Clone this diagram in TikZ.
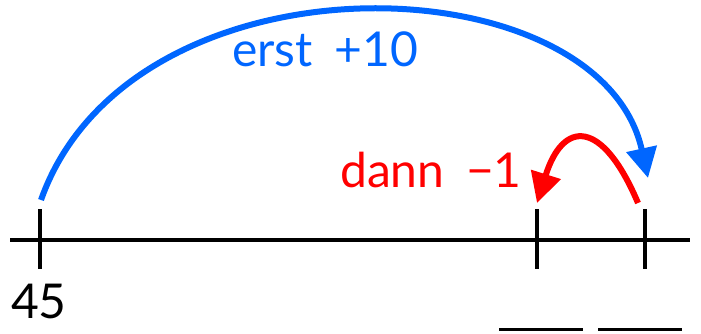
\documentclass[tikz,border=0pt]{standalone}
\usepackage{fontspec}
\setmainfont{Lato}
\usetikzlibrary{arrows.meta}
\definecolor{jumpblue}{RGB}{0,102,255}
\definecolor{jumpred}{RGB}{255,0,0}
\begin{document}
\begin{tikzpicture}[x=1pt, y=-1pt, >={Triangle[length=30pt,width=30pt]},
    lbl/.style={font=\fontsize{48}{56}\selectfont, inner sep=0pt, anchor=base}]
    \useasboundingbox (0,0) rectangle (701,334);
    % Number line
    \coordinate (L) at (10,240);
    \coordinate (R) at (690,240);
    \draw[line width=4pt] (L) -- (R);
    % Ticks
    \foreach \n/\x in {a/40, b/537, c/645} {
        \coordinate (\n top) at (\x,209);
        \coordinate (\n bot) at (\x,269);
        \draw[line width=4pt] (\n top) -- (\n bot);
    }
    \node[lbl] (start) at (39,318) {45};
    % Blanks for the answer
    \coordinate (u1) at (499,329);
    \coordinate (u2) at (583,329);
    \coordinate (v1) at (598,329);
    \coordinate (v2) at (682,329);
    \draw[line width=3pt] (u1) -- (u2);
    \draw[line width=3pt] (v1) -- (v2);
    % First jump
    \coordinate (blueA) at (41,200);
    \coordinate (blueB) at (648,178);
    \draw[->, jumpblue, line width=6pt] (blueA) .. controls (131,-54) and (600,-40) .. (blueB);
    \node[lbl, text=jumpblue] (erst) at (325,67) {erst\hspace{0.45em}+10};
    % Second jump
    \coordinate (redA) at (638,203);
    \coordinate (redB) at (537,203);
    \draw[->, jumpred, line width=6pt] (redA) .. controls (602,118) and (563,120) .. (redB);
    \node[lbl, text=jumpred] (dann) at (431,187) {dann\hspace{0.45em}−1};
\end{tikzpicture}
\end{document}
